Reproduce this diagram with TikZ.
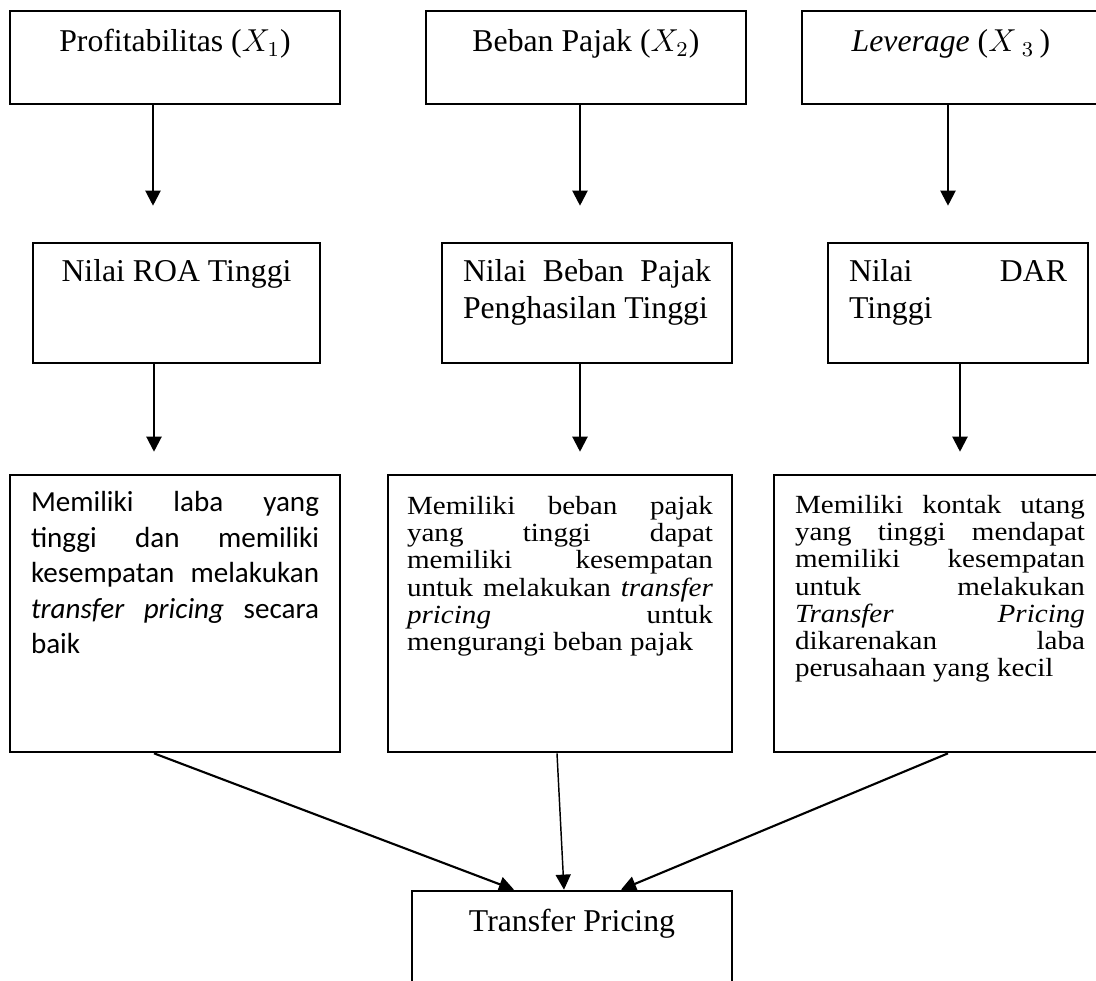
\documentclass[tikz,border=0pt]{standalone}
\usepackage{fontspec}
\setmainfont{Liberation Serif}
\newfontfamily\calfont{Carlito}
\usepackage{graphicx}
\usepackage{tikz}
\usetikzlibrary{positioning, arrows.meta, calc}
\newlength{\unitpx}
\setlength{\unitpx}{0.378pt}
% justified block of given width (in px), first baseline on top
\newcommand{\jtext}[2]{\parbox[t]{#1\unitpx}{\hyphenpenalty=10000\tolerance=10000 #2}}
\newcommand{\squish}[1]{\scalebox{1}[0.9]{#1}}
\tikzset{
  flowbox/.style 2 args={
    draw,
    line width=1pt,
    inner sep=0pt,
    minimum width=#1*\unitpx,
    minimum height=#2*\unitpx
  },
  lbl/.style={inner sep=0pt, anchor=base, font=\fontsize{12pt}{14pt}\selectfont},
  body/.style={lbl, font=\fontsize{11pt}{11.4pt}\selectfont},
  calbody/.style={lbl, font=\calfont\fontsize{11pt}{13.4pt}\selectfont},
  arr/.style={-{Triangle[length=5.7pt, width=5.7pt]}, line width=0.8pt}
}

\begin{document}
\begin{tikzpicture}[x=0.378pt, y=-0.378pt]
  \useasboundingbox (0,0) rectangle (1096,981);

  % Variables
  \node[flowbox={330}{93}] (prof) at (175,57.5) {};
  \node[flowbox={320}{93}] (beban) at (586,57.5) {};
  \node[flowbox={298}{93}] (lev) at (951,57.5) {};
  \node[lbl] (prof-t) at ([yshift=-42*\unitpx]prof.north) {Profitabilitas ($X_1$)};
  \node[lbl] (beban-t) at ([yshift=-42*\unitpx]beban.north) {Beban Pajak ($X_2$)};
  \node[lbl] (lev-t) at ([yshift=-42*\unitpx]lev.north) {\textit{Leverage} ($X\,{}_{3}\,$)};

  % Indicators
  \node[flowbox={287}{120}] (roa) at (176.5,303) {};
  \node[flowbox={290}{120}] (bpph) at (587,303) {};
  \node[flowbox={260}{120}] (dar) at (958,303) {};
  \node[lbl] (roa-t) at ([yshift=-40*\unitpx]roa.north) {Nilai ROA Tinggi};
  \node[lbl] (bpph-t) at ([yshift=-40*\unitpx]bpph.north)
    {\jtext{248}{Nilai Beban Pajak\linebreak Penghasilan Tinggi}};
  \node[lbl] (dar-t) at ([yshift=-40*\unitpx]dar.north)
    {\jtext{218}{Nilai DAR\linebreak Tinggi}};

  % Explanations
  \node[flowbox={330}{277}] (laba) at (175,613.5) {};
  \node[flowbox={344}{277}] (pajak) at (560,613.5) {};
  \node[flowbox={332}{277}] (utang) at (940,613.5) {};
  \node[calbody] (laba-t) at ([yshift=-38*\unitpx]laba.north)
    {\jtext{288}{Memiliki laba yang\linebreak tinggi dan memiliki\linebreak
     kesempatan melakukan\linebreak \textit{transfer pricing} secara\linebreak baik}};
  \node[body] (pajak-t) at ([yshift=-41*\unitpx]pajak.north)
    {\squish{\jtext{306}{Memiliki beban pajak\linebreak yang tinggi dapat\linebreak
     memiliki kesempatan\linebreak untuk melakukan \textit{transfer}\linebreak
     \textit{pricing} untuk\linebreak mengurangi beban pajak}}};
  \node[body] (utang-t) at ([yshift=-40*\unitpx]utang.north)
    {\squish{\jtext{290}{Memiliki kontak utang\linebreak yang tinggi mendapat\linebreak
     memiliki kesempatan\linebreak untuk melakukan\linebreak
     \textit{Transfer Pricing}\linebreak dikarenakan laba\linebreak
     perusahaan yang kecil}}};

  % Result
  \node[flowbox={320}{109}] (tp) at (572,945.5) {};
  \node[lbl] (tp-t) at ([yshift=-42*\unitpx]tp.north) {Transfer Pricing};

  % Arrows
  \draw[arr, shorten >=13.6pt] ([xshift=-22*\unitpx]prof.south) -- ([xshift=-22*\unitpx]prof.south |- roa.north);
  \draw[arr, shorten >=13.6pt] ([xshift=-6*\unitpx]beban.south) -- ([xshift=-6*\unitpx]beban.south |- bpph.north);
  \draw[arr, shorten >=13.6pt] ([xshift=-3*\unitpx]lev.south) -- ([xshift=-3*\unitpx]lev.south |- dar.north);
  \draw[arr, shorten >=8.3pt] ([xshift=-22.5*\unitpx]roa.south) -- ([xshift=-22.5*\unitpx]roa.south |- laba.north);
  \draw[arr, shorten >=8.3pt] ([xshift=-7*\unitpx]bpph.south) -- ([xshift=-7*\unitpx]bpph.south |- pajak.north);
  \draw[arr, shorten >=8.3pt] ([xshift=2*\unitpx]dar.south) -- ([xshift=2*\unitpx]dar.south |- utang.north);
  \draw[arr] ([xshift=-21*\unitpx]laba.south) -- ([xshift=-58*\unitpx]tp.north);
  \draw[arr, line width=0.55pt] ([xshift=-3*\unitpx]pajak.south) -- ([xshift=-8*\unitpx]tp.north);
  \draw[arr] ([xshift=8*\unitpx]utang.south) -- ([xshift=49*\unitpx]tp.north);
\end{tikzpicture}
\end{document}
